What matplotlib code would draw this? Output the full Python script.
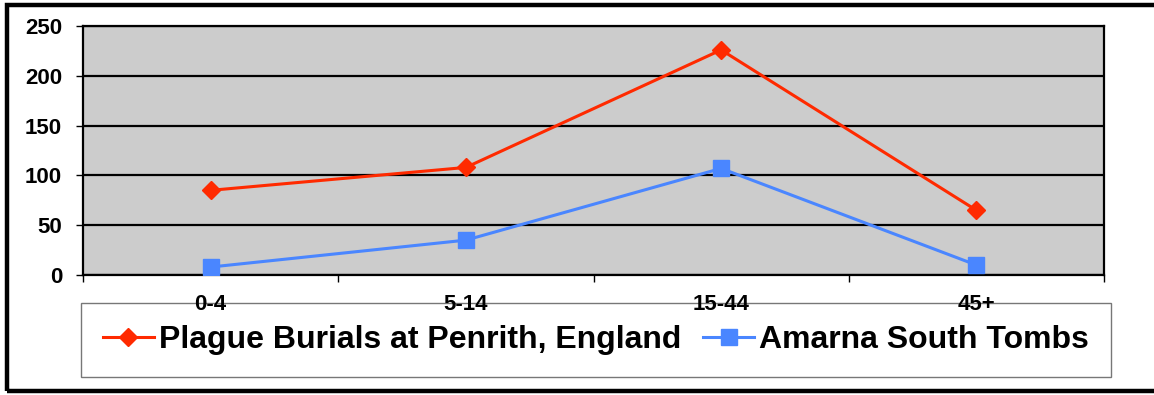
import numpy as np
import matplotlib
matplotlib.use("Agg")
import matplotlib.pyplot as plt
from matplotlib.patches import Rectangle

plt.rcParams['font.family'] = ['Liberation Sans', 'DejaVu Sans']

# age groups and burial counts
age_groups = ["0-4", "5-14", "15-44", "45+"]
penrith = [85, 108, 226, 65]
amarna = [8, 35, 107, 10]

fig = plt.figure(figsize=(11.54, 3.95), dpi=100)
ax = fig.add_axes([83 / 1154, 120 / 395, 1021 / 1154, 249 / 395])
ax.set_facecolor("#cccccc")

x = np.arange(len(age_groups))
ax.plot(x, penrith, color="#ff2a00", lw=2.2, marker="D", ms=9,
        label="Plague Burials at Penrith, England", zorder=4)
ax.plot(x, amarna, color="#4a86ff", lw=2.2, marker="s", ms=11,
        label="Amarna South Tombs", zorder=4)

ax.set_xlim(-0.5, len(age_groups) - 0.5)
ax.set_ylim(0, 250)
ax.set_yticks(np.arange(0, 251, 50))
ax.yaxis.grid(True, color="black", lw=1.6)
ax.set_axisbelow(False)

# boundaries between groups get the tick marks, centres get the labels
ax.set_xticks(np.arange(-0.5, len(age_groups)), [""] * (len(age_groups) + 1))
ax.set_xticks(x, age_groups, minor=True)
ax.tick_params(axis="x", which="major", length=5, width=1, direction="out")
ax.tick_params(axis="x", which="minor", length=0, pad=14)
ax.tick_params(axis="y", length=5, width=1, pad=10)
for lab in ax.get_xticklabels(minor=True) + ax.get_yticklabels():
    lab.set_fontsize(16)
    lab.set_fontweight("bold")

for side in ["left", "right", "top", "bottom"]:
    ax.spines[side].set_linewidth(1.6)
    ax.spines[side].set_color("black")

leg = ax.legend(loc="center", bbox_to_anchor=(596 / 1154, 55 / 395),
                bbox_transform=fig.transFigure, ncol=2, frameon=True,
                fancybox=False, edgecolor="#777777", framealpha=1,
                prop={"weight": "bold", "size": 23}, handlelength=1.6,
                handletextpad=0.15, columnspacing=0.7, borderpad=0.68,
                borderaxespad=0)
leg.get_frame().set_linewidth(1.0)
leg.set_zorder(1)

# heavy outer frame around the chart
fig.patches.append(Rectangle((7 / 1154, 4 / 395), 1.2, 386 / 395,
                             transform=fig.transFigure, fill=False,
                             edgecolor="black", lw=3.2, clip_on=False))

fig.savefig("out.png", dpi=100)
